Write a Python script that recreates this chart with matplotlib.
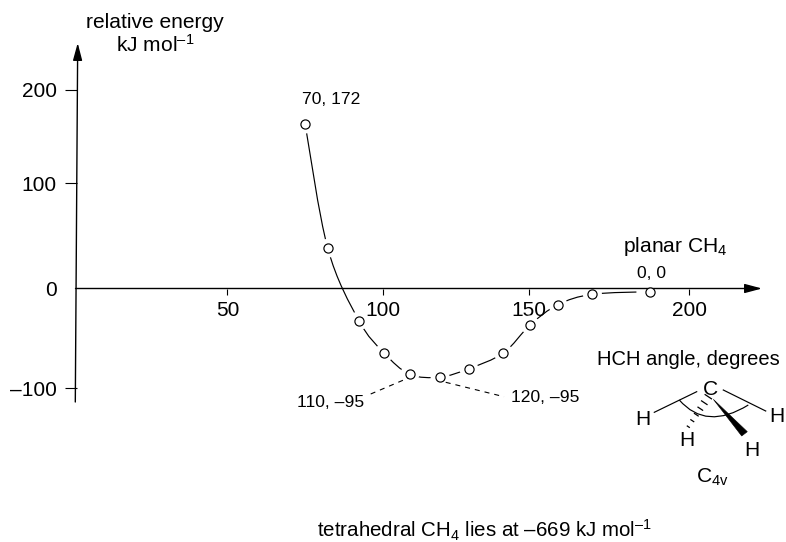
import numpy as np
import matplotlib
matplotlib.use("Agg")
import matplotlib.pyplot as plt
from matplotlib.path import Path
from matplotlib.patches import PathPatch, Polygon

plt.rcParams['font.family'] = ['Liberation Sans', 'DejaVu Sans']
plt.rcParams['mathtext.fontset'] = 'custom'
plt.rcParams['mathtext.rm'] = 'Liberation Sans'
plt.rcParams['mathtext.it'] = 'Liberation Sans'
plt.rcParams['mathtext.bf'] = 'Liberation Sans'
plt.rcParams['mathtext.default'] = 'regular'

# Data, in axis units
angle = [75.2, 82.6, 92.8, 101.0, 109.4, 119.3, 128.7, 140.0, 148.7, 157.8, 169.1, 188.0]
energy = [165.3, 40.4, -32.4, -64.8, -86.2, -89.0, -80.6, -64.8, -36.7, -16.3, -5.8, -3.2]
xtick_values = [49.8, 100.65, 148.3, 200.7]
xtick_labels = ['50', '100', '150', '200']
ytick_values = [-100.3, 0, 106, 199.5]
ytick_labels = ['\u2013100', '0', '100', '200']

FS = 14.5
FS_TICK = 15
FS_WIDE = 15.1
FS_SMALL = 12.6
W, H = 786, 542

fig = plt.figure(figsize=(W / 100, H / 100), dpi=100)
ax = fig.add_axes([0, 0, 1, 1])
ax.set_xlim(-75 / 3.06, (W - 75) / 3.06)
ax.set_ylim((288.5 - H) / 0.995, 288.5 / 0.995)
ax.patch.set_visible(False)
for s in ('top', 'right'):
    ax.spines[s].set_visible(False)
ax.spines['left'].set_position(('data', 0.5))
ax.spines['bottom'].set_position(('data', 0))
ax.spines['left'].set_visible(False)
ax.spines['bottom'].set_visible(False)

ax.set_xticks(xtick_values, xtick_labels, fontsize=FS_TICK)
ax.set_yticks(ytick_values, ytick_labels, fontsize=FS_TICK)
ax.tick_params(axis='x', length=4.5, width=0.8, pad=4.5)
ax.tick_params(axis='y', length=8.6, width=0.8, pad=5.6)
ax.yaxis.get_major_ticks()[1].tick1line.set_visible(False)

# overlay in image pixel coordinates for annotations and the molecule sketch
px = fig.add_axes([0, 0, 1, 1], zorder=5)
px.set_xlim(0, W)
px.set_ylim(H, 0)
px.axis('off')

# smooth curve through the measured points
xs, ys = np.array(angle), np.array(energy)
pts = np.column_stack([xs, ys])
verts = [pts[0]]
codes = [Path.MOVETO]
for i in range(len(pts) - 1):
    p0 = pts[max(i - 1, 0)]
    p1, p2 = pts[i], pts[i + 1]
    p3 = pts[min(i + 2, len(pts) - 1)]
    verts += [p1 + (p2 - p0) / 6, p2 - (p3 - p1) / 6, p2]
    codes += [Path.CURVE4] * 3
ax.add_patch(PathPatch(Path(verts, codes), fc='none', ec='black', lw=0.85, zorder=2))

# white halos leave the gaps between curve and circles
halo = [187] * (len(xs) - 1) + [400]
ax.scatter(xs, ys, s=halo, c='white', linewidths=0, zorder=3)

# arrowed axes
arrow = dict(arrowstyle='-|>,head_length=0.75,head_width=0.2', color='black', lw=1.0,
             shrinkA=0, shrinkB=0, mutation_scale=14)
ax.annotate('', xy=(77.7, 43), xytext=(75.3, 402), xycoords=px.transData,
            textcoords=px.transData, arrowprops=arrow, zorder=4)
ax.annotate('', xy=(762, 288.5), xytext=(75.5, 288.5), xycoords=px.transData,
            textcoords=px.transData, arrowprops=arrow, zorder=4)

ax.plot(xs, ys, ls='none', marker='o', ms=6.6, mfc='white', mec='black', mew=0.85, zorder=6)

# labels
def label(x, y, s, size=FS, ha='left'):
    px.text(x, y, s, fontsize=size, ha=ha, va='baseline', color='black')

label(155, 28, 'relative energy', FS_WIDE, ha='center')
label(155, 51.7, 'kJ mol$^{\u20131}$', FS_WIDE, ha='center')
label(302, 104, '70, 172', FS_SMALL)
label(623.3, 251.7, 'planar CH$_{4}$', FS_WIDE)
label(637.3, 278.3, '0, 0', FS_SMALL)
label(297, 406.7, '110, \u201395', FS_SMALL)
label(511, 402.3, '120, \u201395', FS_SMALL)
label(780, 365, 'HCH angle, degrees', ha='right')
label(317.3, 537.7, 'tetrahedral CH$_{4}$ lies at \u2013669 kJ mol$^{\u20131}$', 14.8)

# dashed leaders
dash = dict(color='black', lw=0.8, dashes=(4.5, 4.5))
px.plot([370.7, 408.3], [394, 378], **dash)
px.plot([445.7, 504], [382.3, 396.7], **dash)

# molecule
label(710, 395, 'C', FS_WIDE, ha='center')
label(642.7, 425, 'H', FS_WIDE, ha='center')
label(687.3, 445.5, 'H', FS_WIDE, ha='center')
label(752.3, 455.5, 'H', FS_WIDE, ha='center')
label(776.7, 421.5, 'H', FS_WIDE, ha='center')
label(712, 483, 'C$_{4v}$', FS_WIDE, ha='center')
px.plot([654.3, 696.7], [412.3, 391.7], color='black', lw=0.85)
px.plot([723.3, 765.7], [390, 411], color='black', lw=0.85)
px.add_patch(Polygon([(713.3, 399.3), (747.3, 431.7), (741.7, 436)], fc='black', ec='black', lw=0.4))
start, end = np.array([708.3, 396.7]), np.array([688.3, 426.7])
d = (end - start) / np.linalg.norm(end - start)
n = np.array([-d[1], d[0]])
for t, w in zip(np.linspace(0, 1, 6), np.linspace(3.8, 1.2, 6)):
    c = start + t * (end - start)
    a, b = c - n * w, c + n * w
    px.plot([a[0], b[0]], [a[1], b[1]], color='black', lw=0.9)
arc = Path([(679.3, 400), (706.2, 430.9), (748.3, 405)], [Path.MOVETO, Path.CURVE3, Path.CURVE3])
px.add_patch(PathPatch(arc, fc='none', ec='black', lw=0.85))

fig.savefig('out.png', dpi=100)
